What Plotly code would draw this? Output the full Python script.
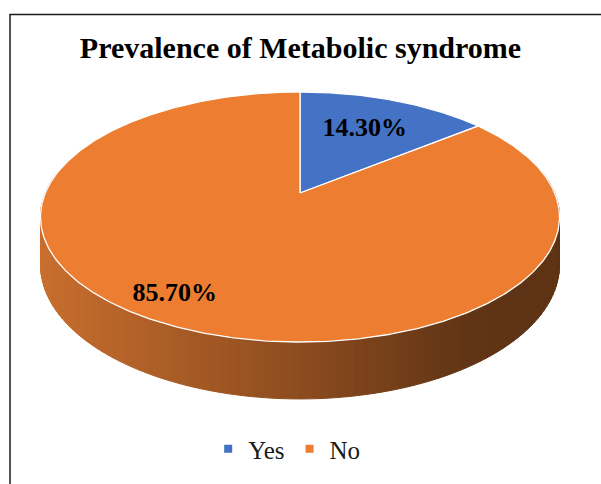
import numpy as np
import plotly.graph_objects as go

# ---- data ----
categories = ["Yes", "No"]
values = [14.3, 85.7]
colors = ["#4472C4", "#ED7D31"]
title_text = "Prevalence of Metabolic syndrome"

# ---- geometry of the 3D pie (pixel space) ----
CX, CY = 300.0, 193.0      # projected pie centre
B, A = 254.7, 120.4        # horizontal / vertical radii scale
K = 0.192                  # perspective factor
H = 46.0                   # thickness
label_r = [0.65, 0.84]     # label radius per slice (fraction)
label_shift_deg = [0.0, 4.5]


def proj(X, Y, z=0.0):
    d = 1.0 - K * Y
    return CX + B * X / d, CY + (A * Y + H * z) / d


def rim(t, r=1.0, z=0.0):
    return proj(r * np.sin(t), -r * np.cos(t), z)


total = sum(values)
fracs = [v / total for v in values]
starts = np.cumsum([0] + fracs[:-1]) * 2 * np.pi
ends = np.cumsum(fracs) * 2 * np.pi

fig = go.Figure()


def side_color(x):
    stops = [(40, (200, 110, 46)), (300, (140, 76, 31)), (470, (96, 52, 21)), (601, (92, 50, 20))]
    if x <= stops[0][0]:
        c = stops[0][1]
    else:
        c = stops[-1][1]
        for (x0, c0), (x1, c1) in zip(stops[:-1], stops[1:]):
            if x0 <= x <= x1:
                f = (x - x0) / (x1 - x0)
                c = tuple(c0[i] + (c1[i] - c0[i]) * f for i in range(3))
                break
    return "rgb(%d,%d,%d)" % tuple(int(round(v)) for v in c)


# ---- side wall (front part), drawn as thin strips with a horizontal shade ----
ts = np.linspace(np.radians(80), np.radians(280), 121)
for t0, t1 in zip(ts[:-1], ts[1:]):
    xa, ya = rim(t0)
    xb, yb = rim(t1)
    xc, yc = rim(t1, z=1)
    xd, yd = rim(t0, z=1)
    col = side_color((xa + xb) / 2)
    fig.add_trace(go.Scatter(x=[xa, xb, xc, xd, xa], y=[ya, yb, yc, yd, ya],
                             mode="lines", fill="toself", fillcolor=col,
                             line=dict(color=col, width=1), hoverinfo="skip",
                             showlegend=False))

# ---- top face slices ----
for s, e, c in zip(starts, ends, colors):
    tt = np.linspace(s, e, max(8, int((e - s) / 0.01)))
    xs, ys = rim(tt)
    px = np.concatenate([[CX], xs, [CX]])
    py = np.concatenate([[CY], ys, [CY]])
    fig.add_trace(go.Scatter(x=px, y=py, mode="lines", fill="toself", fillcolor=c,
                             line=dict(color="white", width=1.3), hoverinfo="skip",
                             showlegend=False))

# ---- data labels ----
lx, ly = [], []
for s, e, r, sh in zip(starts, ends, label_r, label_shift_deg):
    m = (s + e) / 2 + np.radians(sh)
    x, y = rim(m, r=r)
    lx.append(x)
    ly.append(y)
fig.add_trace(go.Scatter(x=lx, y=ly, mode="text",
                         text=["<b>%.2f%%</b>" % v for v in values],
                         textfont=dict(family="Liberation Serif", size=26, color="black"),
                         hoverinfo="skip", showlegend=False))

# ---- legend entries ----
for cat, c in zip(categories, colors):
    fig.add_trace(go.Scatter(x=[None], y=[None], mode="markers", name=cat,
                             marker=dict(symbol="square", size=8, color=c)))

# ---- chart border ----
fig.add_shape(type="rect", xref="x", yref="y", x0=10, y0=14.5, x1=700, y1=600,
              line=dict(color="#1a1a1a", width=1.5), fillcolor="rgba(0,0,0,0)", layer="above")

fig.update_layout(
    width=601, height=484,
    margin=dict(l=0, r=0, t=0, b=0, pad=0),
    paper_bgcolor="white", plot_bgcolor="white",
    title=dict(text="<b>" + title_text + "</b>", x=0.5, xanchor="center",
               y=1 - 47 / 484, yanchor="middle",
               font=dict(family="Liberation Serif", size=30, color="black")),
    xaxis=dict(range=[0, 601], visible=False, fixedrange=True),
    yaxis=dict(range=[484, 0], visible=False, fixedrange=True),
    showlegend=True,
    legend=dict(orientation="h", x=0.477, xanchor="center", y=1 - 449 / 484, yanchor="middle",
                font=dict(family="Liberation Serif", size=25, color="#1a1a1a"),
                bgcolor="rgba(0,0,0,0)"),
)

fig.write_html("out.html", config={"displayModeBar": False},
               post_script="document.body.style.margin='0';document.body.style.padding='0';")
